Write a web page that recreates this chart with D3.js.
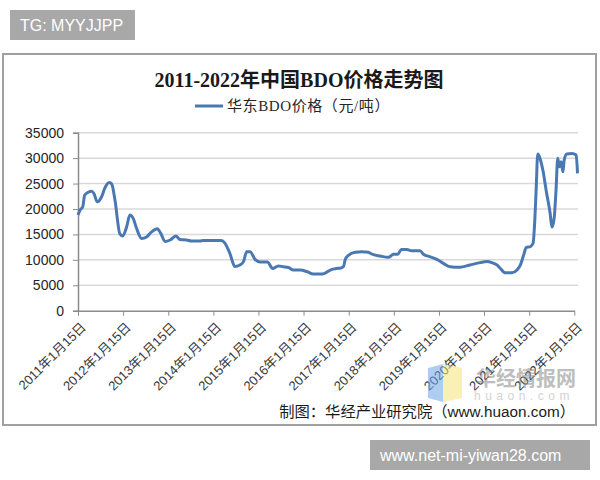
<!DOCTYPE html>
<html>
<head>
<meta charset="utf-8">
<script src="https://cdn.jsdelivr.net/npm/d3@7/dist/d3.min.js"></script>
<style>
    body { margin: 0; background: #fff; }
</style>
</head>
<body>
<div id="chart"></div>
<script>
// 华东BDO价格（元/吨），读图估计
var dates = [
    '2011-01-15', '2011-02-01', '2011-02-22', '2011-03-10', '2011-04-08', '2011-05-05',
    '2011-05-23', '2011-06-20', '2011-07-25', '2011-08-20', '2011-09-25', '2011-10-15',
    '2011-11-10', '2011-12-20', '2012-01-12', '2012-02-13', '2012-03-10', '2012-04-05',
    '2012-05-03', '2012-06-13', '2012-07-23', '2012-09-02', '2012-10-18', '2012-11-15',
    '2012-12-20', '2013-01-30', '2013-03-17', '2013-04-20', '2013-06-12', '2013-07-23',
    '2013-09-30', '2013-10-24', '2014-03-20', '2014-04-18', '2014-05-28', '2014-07-08',
    '2014-08-18', '2014-09-15', '2014-10-12', '2014-11-08', '2014-12-18', '2015-01-28',
    '2015-03-28', '2015-05-10', '2015-06-24', '2015-08-03', '2015-09-15', '2015-10-25',
    '2015-12-18', '2016-02-10', '2016-04-02', '2016-05-28', '2016-07-05', '2016-08-18',
    '2016-10-08', '2016-11-05', '2016-12-03', '2016-12-17', '2017-01-12', '2017-03-08',
    '2017-05-01', '2017-06-23', '2017-07-20', '2017-09-26', '2017-12-02', '2018-01-12',
    '2018-02-15', '2018-03-18', '2018-04-30', '2018-06-08', '2018-08-15', '2018-09-12',
    '2018-11-05', '2018-12-30', '2019-02-20', '2019-04-15', '2019-07-03', '2019-09-24',
    '2019-12-15', '2020-02-08', '2020-03-18', '2020-04-28', '2020-05-25', '2020-07-05',
    '2020-08-28', '2020-10-08', '2020-11-05', '2020-12-01', '2020-12-22', '2021-01-25',
    '2021-02-15', '2021-02-28', '2021-03-12', '2021-03-25', '2021-04-12', '2021-05-05',
    '2021-06-05', '2021-07-03', '2021-07-18', '2021-08-05', '2021-08-20', '2021-09-03',
    '2021-09-17', '2021-09-30', '2021-10-15', '2021-10-25', '2021-11-15', '2021-12-27',
    '2022-01-30', '2022-02-10'
];

var prices = [
    18800, 19800, 20400, 22700, 23300, 23500,
    23100, 21400, 22400, 24100, 25200, 24900,
    21800, 15100, 14700, 16500, 18800, 18200,
    16200, 14200, 14500, 15500, 16100, 15200,
    13600, 13900, 14700, 14000, 13900, 13700,
    13700, 13800, 13800, 13300, 11300, 8700,
    9000, 9600, 11600, 11600, 10100, 9600,
    9600, 8300, 8800, 8650, 8500, 8000,
    8000, 7700, 7200, 7200, 7350, 8000,
    8300, 8350, 8650, 10000, 10900, 11500,
    11600, 11500, 11150, 10750, 10500, 11100,
    11100, 12050, 12050, 11800, 11800, 11100,
    10600, 10100, 9300, 8650, 8550, 9000,
    9450, 9650, 9450, 9000, 8350, 7450,
    7450, 8000, 9000, 10950, 12450, 12600,
    13250, 17200, 23700, 30800, 30000, 27700,
    23100, 19200, 16400, 18200, 23700, 30000,
    28300, 29300, 27300, 29600, 30800, 30900,
    30600, 27000
];

var yTicks = [0, 5000, 10000, 15000, 20000, 25000, 30000, 35000];
var tickYears = [2011, 2012, 2013, 2014, 2015, 2016, 2017, 2018, 2019, 2020, 2021, 2022];

var titleText = '2011-2022年中国BDO价格走势图';
var legendText = '华东BDO价格（元/吨）';
var sourceText = '制图：华经产业研究院（www.huaon.com）';

(function(d3) {
    'use strict';

    var settings = {
        width: 600,
        height: 480,
        plot: { left: 78, right: 574.3, top: 132.7, bottom: 310.7, gridRight: 578 },
        lineColor: '#4a78b3',
        gridColor: '#d9d9d9',
        axisColor: '#8c8c8c',
        cjkSerif: '"Liberation Serif", "Noto Sans CJK SC", serif',
        cjkSans: '"Liberation Sans", "Noto Sans CJK SC", sans-serif'
    };

    var parse = d3.timeParse('%Y-%m-%d');

    var data = dates.map(function(d, i) {
        return { date: parse(d), value: prices[i] };
    });

    var svg = d3.select('#chart').append('svg')
        .attr('width', settings.width)
        .attr('height', settings.height);

    // top-left tag
    svg.append('rect')
        .attr('x', 10).attr('y', 10)
        .attr('width', 125).attr('height', 30)
        .attr('fill', '#a8a8a8');
    svg.append('text')
        .attr('x', 20).attr('y', 31)
        .attr('fill', '#fff')
        .style('font-family', '"Liberation Sans", Arial, sans-serif')
        .style('font-size', '16px')
        .text('TG: MYYJJPP');

    // chart frame
    svg.append('rect')
        .attr('x', 3).attr('y', 54)
        .attr('width', 593).attr('height', 371)
        .attr('fill', '#fff')
        .attr('stroke', '#a0a0a0')
        .attr('stroke-width', 2);

    var x = d3.scaleTime()
        .domain([parse('2011-01-15'), parse('2022-01-15')])
        .range([settings.plot.left, settings.plot.right]);

    var y = d3.scaleLinear()
        .domain([0, 35000])
        .range([settings.plot.bottom, settings.plot.top]);

    // gridlines
    svg.append('g')
        .selectAll('line')
        .data(yTicks.slice(1))
        .enter()
        .append('line')
        .attr('x1', settings.plot.left)
        .attr('x2', settings.plot.gridRight)
        .attr('y1', function(d) { return y(d); })
        .attr('y2', function(d) { return y(d); })
        .attr('stroke', settings.gridColor)
        .attr('stroke-width', 1.5);

    // y axis
    var yAxis = svg.append('g')
        .attr('transform', 'translate(' + settings.plot.left + ',0)')
        .call(d3.axisLeft(y).tickValues(yTicks).tickSize(5).tickPadding(9).tickFormat(d3.format('d')));
    yAxis.select('.domain').attr('stroke', settings.axisColor).attr('stroke-width', 1.5);
    yAxis.selectAll('.tick line').attr('stroke', settings.axisColor);
    yAxis.selectAll('.tick text')
        .attr('fill', '#262626')
        .style('font-family', '"Liberation Sans", Arial, sans-serif')
        .style('font-size', '14px');

    // x axis
    var tickDates = tickYears.map(function(yr) { return parse(yr + '-01-15'); });
    var xAxis = svg.append('g')
        .attr('transform', 'translate(0,' + settings.plot.bottom + ')')
        .call(d3.axisBottom(x).tickValues(tickDates).tickSize(5).tickSizeOuter(0)
            .tickFormat(function(d) { return d.getFullYear() + '年1月15日'; }));
    xAxis.select('.domain').attr('stroke', settings.axisColor).attr('stroke-width', 1.5);
    xAxis.selectAll('.tick line').attr('stroke', settings.axisColor);
    xAxis.selectAll('.tick text')
        .attr('fill', '#3a3a3a')
        .attr('text-anchor', 'end')
        .attr('x', 0)
        .attr('y', 0)
        .attr('dy', '0.35em')
        .attr('transform', 'translate(5,14) rotate(-45)')
        .style('font-family', settings.cjkSans)
        .style('font-size', '13px');

    // watermark
    var wm = svg.append('g').attr('opacity', 0.55);
    wm.append('path')
        .attr('d', 'M428,368 L443,364 L443,402 L428,398 Z')
        .attr('fill', '#6fa6e8');
    wm.append('path')
        .attr('d', 'M443,364 L462,368 L462,398 L443,402 Z')
        .attr('fill', '#f7e27a');
    wm.append('text')
        .attr('x', 476).attr('y', 386)
        .attr('fill', '#8a8a8a')
        .style('font-family', '"Noto Sans CJK SC", sans-serif')
        .style('font-weight', 'bold')
        .style('font-size', '20px')
        .text('华经情报网');
    wm.append('text')
        .attr('x', 474).attr('y', 400)
        .attr('fill', '#b0b0b0')
        .style('font-family', '"Liberation Sans", sans-serif')
        .style('font-size', '12px')
        .style('letter-spacing', '4.5px')
        .text('huaon.com');

    // price line
    var line = d3.line()
        .x(function(d) { return x(d.date); })
        .y(function(d) { return y(d.value); })
        .curve(d3.curveMonotoneX);

    svg.append('path')
        .datum(data)
        .attr('d', line)
        .attr('fill', 'none')
        .attr('stroke', settings.lineColor)
        .attr('stroke-width', 3)
        .attr('stroke-linejoin', 'round');

    // title
    svg.append('text')
        .attr('x', 299).attr('y', 87)
        .attr('text-anchor', 'middle')
        .attr('fill', '#1a1a1a')
        .style('font-family', settings.cjkSerif)
        .style('font-weight', 'bold')
        .style('font-size', '20px')
        .text(titleText);

    // legend
    svg.append('line')
        .attr('x1', 195).attr('x2', 223)
        .attr('y1', 106).attr('y2', 106)
        .attr('stroke', settings.lineColor)
        .attr('stroke-width', 3);
    svg.append('text')
        .attr('x', 227).attr('y', 111)
        .attr('fill', '#262626')
        .style('font-family', settings.cjkSerif)
        .style('font-size', '15px')
        .style('letter-spacing', '0.6px')
        .text(legendText);

    // source
    svg.append('text')
        .attr('x', 575).attr('y', 417)
        .attr('text-anchor', 'end')
        .attr('fill', '#1a1a1a')
        .style('font-family', settings.cjkSans)
        .style('font-size', '15.3px')
        .text(sourceText);

    // bottom-right tag
    svg.append('rect')
        .attr('x', 370).attr('y', 440)
        .attr('width', 220).attr('height', 30)
        .attr('fill', '#a8a8a8');
    svg.append('text')
        .attr('x', 380).attr('y', 461)
        .attr('fill', '#fff')
        .style('font-family', '"Liberation Sans", Arial, sans-serif')
        .style('font-size', '16px')
        .text('www.net-mi-yiwan28.com');

})(window.d3);
</script>
</body>
</html>
